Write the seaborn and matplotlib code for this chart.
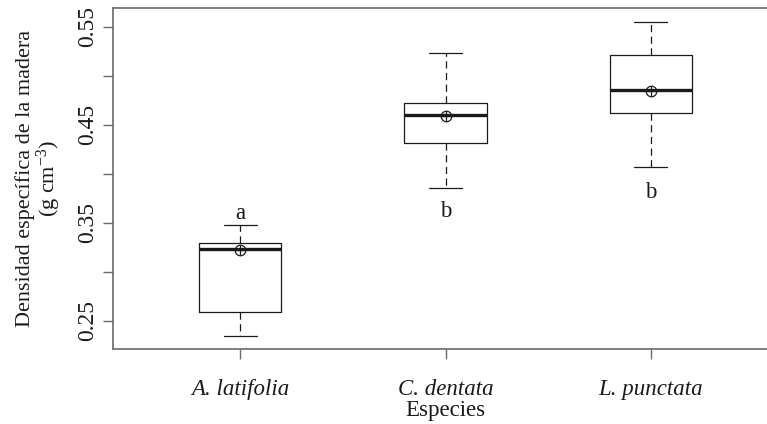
import numpy as np
import pandas as pd
import matplotlib
matplotlib.use("Agg")
import matplotlib.pyplot as plt
import seaborn as sns

# ---- data ----
species = ["A. latifolia", "C. dentata", "L. punctata"]
w_low = [0.234, 0.386, 0.407]
q1 = [0.259, 0.431, 0.462]
medians = [0.3235, 0.460, 0.4857]
q3 = [0.3296, 0.4724, 0.5214]
w_high = [0.348, 0.5235, 0.555]
means = [0.3225, 0.459, 0.4847]
letters = ["a", "b", "b"]
letter_y = [0.3595, 0.3615, 0.381]

yticks = [0.25, 0.30, 0.35, 0.40, 0.45, 0.50, 0.55]
ytick_labels = ["0.25", "", "0.35", "", "0.45", "", "0.55"]

# five-number summaries -> long table for seaborn
rows = []
for s, a, b, c, d, e in zip(species, w_low, q1, medians, q3, w_high):
    for v in (a, b, c, d, e):
        rows.append({"Especie": s, "Densidad": v})
df = pd.DataFrame(rows)

sns.set_theme(style="white")
plt.rcParams["font.family"] = ["Liberation Serif", "DejaVu Serif"]
plt.rcParams["mathtext.fontset"] = "custom"
plt.rcParams["mathtext.rm"] = "Liberation Serif"
plt.rcParams["mathtext.it"] = "Liberation Serif:italic"
plt.rcParams["lines.scale_dashes"] = False

ink = "#1a1a1a"
axcol = "#6a6a6a"

fig = plt.figure(figsize=(7.67, 4.24), dpi=100)
ax = fig.add_axes([113 / 767, 75 / 424, 665 / 767, 341 / 424])

sns.boxplot(
    data=df, x="Especie", y="Densidad", order=species, ax=ax,
    width=0.4, fill=False, color=ink, linecolor=ink, linewidth=0.9,
    whis=10, showfliers=False, capwidths=0.16,
    medianprops={"linewidth": 2.4, "color": ink},
    whiskerprops={"linestyle": (0, (5.2, 3.2)), "linewidth": 0.9, "color": ink},
    capprops={"linewidth": 0.9, "color": ink},
)

sns.pointplot(
    x=species, y=means, order=species, ax=ax, linestyle="none",
    marker="o", markersize=7.6, markerfacecolor="none", markeredgecolor=ink,
    markeredgewidth=0.9, color=ink, errorbar=None,
)
sns.pointplot(
    x=species, y=means, order=species, ax=ax, linestyle="none",
    marker="+", markersize=7.6, markeredgewidth=0.9, color=ink, errorbar=None,
)

for i, (lab, ly) in enumerate(zip(letters, letter_y)):
    ax.text(i, ly, lab, ha="center", va="center", fontsize=16.5, color=ink)

ax.set_xlim(-0.62, 2.62)
ax.set_ylim(0.2212, 0.5692)
ax.set_yticks(yticks)
ax.set_yticklabels(ytick_labels, rotation=90, va="center", fontsize=17)
ax.set_xticks(range(len(species)))
ax.set_xticklabels(species, fontstyle="italic", fontsize=16.5)

ax.tick_params(axis="both", which="both", direction="out", length=7.5,
               width=1.0, color=axcol, labelcolor=ink, left=True, bottom=True)
ax.tick_params(axis="y", pad=3)
ax.tick_params(axis="x", pad=14)

for side in ["left", "bottom", "top", "right"]:
    ax.spines[side].set_visible(True)
    ax.spines[side].set_color(axcol)
    ax.spines[side].set_linewidth(1.2)

ax.set_xlabel("Especies", fontsize=16.5, color=ink, labelpad=0)
ax.set_ylabel("Densidad específica de la madera\n(g cm$^{-3}$)", fontsize=16,
              color=ink, linespacing=1.0, labelpad=10.5)

fig.savefig("out.png", dpi=100)
